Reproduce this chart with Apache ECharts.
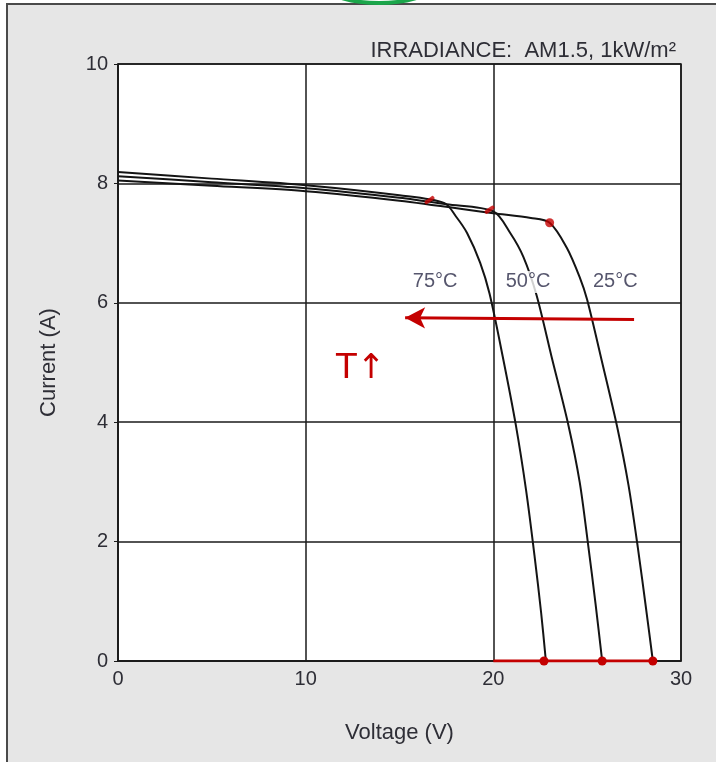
<!DOCTYPE html>
<html>
<head>
<meta charset="utf-8">
<script src="https://cdn.jsdelivr.net/npm/echarts@6/dist/echarts.min.js"></script>
<style>
  html, body { margin: 0; padding: 0; background: #fff; }
  #chart { width: 716px; height: 762px; }
</style>
</head>
<body>
<div id="chart"></div>
<script>
// I-V curves at three cell temperatures
var volt25 = [0, 5, 10, 15, 20, 22.0, 23.0, 23.9, 24.6, 25.0, 25.8, 26.6, 27.2, 27.7, 28.15, 28.5];
var amp25 = [8.05, 7.96, 7.87, 7.71, 7.5, 7.42, 7.34, 6.93, 6.43, 6.05, 5.0, 3.92, 2.95, 1.9, 0.85, 0];
var volt50 = [0, 5, 10, 15, 17.5, 20.0, 20.9, 21.6, 22.3, 23.1, 24.0, 24.6, 25.05, 25.45, 25.8];
var amp50 = [8.12, 8.02, 7.92, 7.76, 7.65, 7.53, 7.17, 6.77, 6.13, 5.1, 3.95, 3.0, 1.95, 0.95, 0];
var volt75 = [0, 5, 10, 15, 17.4, 18.0, 18.6, 19.3, 19.8, 20.5, 21.2, 21.75, 22.2, 22.55, 22.8];
var amp75 = [8.19, 8.08, 7.97, 7.8, 7.67, 7.45, 7.17, 6.67, 6.15, 5.1, 3.95, 2.85, 1.75, 0.8, 0];

var tempLabels = ['75°C', '50°C', '25°C'];
var labelVolt = [16.9, 21.85, 26.5];
var labelAmp = [6.35, 6.35, 6.35];

// hand-drawn red marks
var kneeVolt = [16.6, 19.8, 23.0];
var kneeAmp = [7.72, 7.56, 7.34];
var vocVolt = [20, 22.7, 25.8, 28.5];
var arrowFrom = [27.5, 5.72];
var arrowTo = [15.3, 5.75];

var yTicks = ['0', '2', '4', '6', '8', '10'];

function pairs(xs, ys) {
  var out = [];
  for (var i = 0; i < xs.length; i++) out.push([xs[i], ys[i]]);
  return out;
}

var curveStyle = { color: '#141414', width: 2 };
var red = '#c40000';
var textColor = '#2e2e36';
var font = 'Liberation Sans, Arial';

var chart = echarts.init(document.getElementById('chart'));

var option = {
  backgroundColor: '#ffffff',
  animation: false,
  title: {
    text: 'IRRADIANCE:  AM1.5, 1kW/m²',
    right: 35,
    top: 35,
    textStyle: { fontFamily: font, fontSize: 22, fontWeight: 'normal', color: textColor }
  },
  grid: {
    left: 118, right: 35, top: 64, bottom: 101,
    show: true, backgroundColor: '#ffffff', borderColor: '#1a1a1a', borderWidth: 1.5
  },
  graphic: [
    {
      type: 'rect', z: -100, silent: true,
      shape: { x: 7, y: 4, width: 740, height: 790 },
      style: { fill: '#e6e6e6', stroke: '#4a4a4a', lineWidth: 2 }
    },
    {
      type: 'ellipse', silent: true,
      shape: { cx: 379, cy: -12, rx: 50, ry: 15 },
      style: { fill: 'none', stroke: '#1aa64a', lineWidth: 4 }
    },
    {
      type: 'text', left: 336, top: 352, silent: true,
      style: { text: 'T↑', fill: red, font: '34px "DejaVu Sans"' }
    }
  ],
  xAxis: {
    type: 'value', min: 0, max: 30, interval: 10,
    name: 'Voltage (V)', nameLocation: 'middle', nameGap: 61,
    nameTextStyle: { fontFamily: font, fontSize: 22, color: textColor },
    axisLine: { show: true, lineStyle: { color: '#1a1a1a', width: 1.5 } },
    axisTick: { show: false },
    axisLabel: { fontFamily: font, fontSize: 20, color: textColor, margin: 8 },
    splitLine: { show: true, lineStyle: { color: '#1a1a1a', width: 1.5 } }
  },
  yAxis: {
    type: 'value', min: 0, max: 10, interval: 2,
    name: 'Current (A)', nameLocation: 'middle', nameGap: 58,
    nameTextStyle: { fontFamily: font, fontSize: 22, color: textColor },
    axisLine: { show: true, lineStyle: { color: '#1a1a1a', width: 1.5 } },
    axisTick: { show: true, length: 4, lineStyle: { color: '#1a1a1a' } },
    axisLabel: {
      fontFamily: font, fontSize: 20, color: textColor, margin: 10,
      formatter: function (v) { return yTicks[v / 2]; }
    },
    splitLine: { show: true, lineStyle: { color: '#1a1a1a', width: 1.5 } }
  },
  series: [
    { name: '25°C', type: 'line', data: pairs(volt25, amp25), symbol: 'none', smooth: 0.3, lineStyle: curveStyle, z: 2 },
    { name: '50°C', type: 'line', data: pairs(volt50, amp50), symbol: 'none', smooth: 0.3, lineStyle: curveStyle, z: 2 },
    { name: '75°C', type: 'line', data: pairs(volt75, amp75), symbol: 'none', smooth: 0.3, lineStyle: curveStyle, z: 2 },
    {
      type: 'scatter', z: 5, symbolSize: 0,
      data: pairs(labelVolt, labelAmp).map(function (p, i) { return { value: p, name: tempLabels[i] }; }),
      label: {
        show: true, position: 'inside', formatter: '{b}',
        fontFamily: font, fontSize: 20, color: '#2c2c48',
        backgroundColor: '#ffffff', padding: [1, 2]
      }
    },
    {
      type: 'line', z: 6, data: pairs(vocVolt, [0, 0, 0, 0]),
      lineStyle: { color: red, width: 3 },
      itemStyle: { color: red },
      symbol: 'circle',
      symbolSize: function (v, p) { return p.dataIndex === 0 ? 0 : 9; }
    },
    {
      type: 'scatter', z: 6,
      data: pairs(kneeVolt, kneeAmp).map(function (p, i) {
        return i === 2
          ? { value: p, symbol: 'circle', symbolSize: 9 }
          : { value: p, symbol: 'roundRect', symbolSize: [11, 4], symbolRotate: 35 };
      }),
      itemStyle: { color: red }
    },
    {
      type: 'line', z: 6, data: [], symbol: 'none',
      markLine: {
        silent: true, symbol: ['none', 'arrow'], symbolSize: [16, 20],
        label: { show: false },
        lineStyle: { color: red, width: 3, type: 'solid' },
        data: [[{ coord: arrowFrom }, { coord: arrowTo }]]
      }
    }
  ]
};

chart.setOption(option);
</script>
</body>
</html>
